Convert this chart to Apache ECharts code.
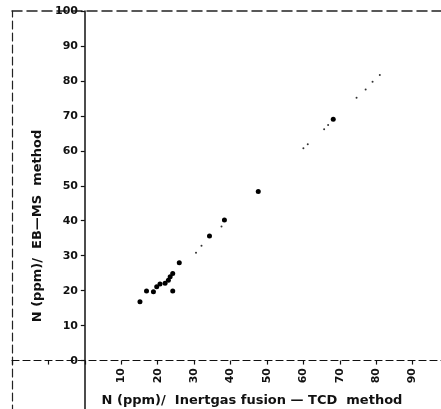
<!DOCTYPE html>
<html><head><meta charset="utf-8">
<script src="https://cdn.jsdelivr.net/npm/echarts@6/dist/echarts.min.js"></script>
<style>html,body{margin:0;padding:0;background:#fff}#c{width:441px;height:409px}</style>
</head><body><div id="c"></div>
<script>
// x: N (ppm) Inertgas fusion - TCD; y: N (ppm) EB-MS
const largeX = [15.1, 16.9, 18.8, 19.7, 20.6, 22.0, 22.9, 23.4, 24.1, 24.1, 25.9, 34.2, 38.3, 47.6, 68.2];
const largeY = [16.9, 20.0, 19.8, 21.2, 22.0, 22.2, 23.1, 24.1, 25.0, 20.0, 28.1, 35.7, 40.3, 48.4, 69.1];
const smallX = [30.5, 32.0, 37.5, 60.0, 61.2, 65.7, 66.8, 74.6, 77.1, 79.0, 81.0];
const smallY = [30.9, 32.9, 38.4, 60.8, 61.9, 66.2, 67.4, 75.2, 77.6, 79.8, 81.7];
const xTickLabels = ['10','20','30','40','50','60','70','80','90'];
const yTickLabels = ['0','10','20','30','40','50','60','70','80','90','100'];
const xName = 'N (ppm)/  Inertgas fusion \u2014 TCD  method';
const yName = 'N (ppm)/  EB\u2014MS  method';

const zip = (a, b) => a.map((v, i) => [v, b[i]]);
const font = 'DejaVu Sans';
const ink = '#111';
const chart = echarts.init(document.getElementById('c'), null, {renderer: 'canvas'});
chart.setOption({
  animation: false,
  backgroundColor: '#ffffff',
  grid: [
    {left: 85, right: -8, top: 11, bottom: 48, containLabel: false, outerBoundsMode: 'none'},
    {left: 12, right: -8, top: 11, bottom: -4, containLabel: false, outerBoundsMode: 'none'}
  ],
  xAxis: [{
    gridIndex: 0, type: 'value', min: 0, max: 100, interval: 10,
    axisLine: {show: false},
    axisTick: {show: false},
    splitLine: {show: false},
    axisLabel: {
      rotate: 90, margin: 7, color: ink, fontFamily: font, fontWeight: 'bold', fontSize: 11,
      formatter: v => xTickLabels.includes(String(v)) ? String(v) : ''
    },
    name: xName, nameLocation: 'middle', nameGap: 33,
    nameTextStyle: {color: ink, fontFamily: font, fontWeight: 'bold', fontSize: 13, padding: [0, 30, 0, 0]}
  }, {
    gridIndex: 1, type: 'value', min: -20, max: 100, interval: 10,
    axisLine: {onZero: true, lineStyle: {color: ink, width: 1.2, type: [7, 4]}},
    axisTick: {show: true, length: 4, lineStyle: {color: ink, width: 1.2}},
    axisLabel: {show: false}, splitLine: {show: false}
  }, {
    gridIndex: 1, type: 'value', position: 'top', min: -20, max: 100,
    axisLine: {show: true, onZero: false, lineStyle: {color: '#222', width: 1.5, type: [10, 5]}},
    axisTick: {show: false}, axisLabel: {show: false}, splitLine: {show: false}
  }],
  yAxis: [{
    gridIndex: 0, type: 'value', min: 0, max: 100, interval: 10,
    axisLine: {show: false},
    axisTick: {show: false},
    axisLabel: {
      margin: 7, color: ink, fontFamily: font, fontWeight: 'bold', fontSize: 11,
      formatter: v => yTickLabels.includes(String(v)) ? String(v) : ''
    },
    splitLine: {show: false},
    name: yName, nameLocation: 'middle', nameGap: 37, nameRotate: 90,
    nameTextStyle: {color: ink, fontFamily: font, fontWeight: 'bold', fontSize: 13, padding: [0, 80, 0, 0]}
  }, {
    gridIndex: 1, type: 'value', min: -15, max: 100, interval: 5,
    axisLine: {onZero: true, lineStyle: {color: ink, width: 1.5}},
    axisTick: {show: true, length: 4, lineStyle: {color: ink, width: 1.2},
      customValues: [0,10,20,30,40,50,60,70,80,90,100]},
    axisLabel: {show: false}, splitLine: {show: false}
  }, {
    gridIndex: 1, type: 'value', position: 'left', min: -15, max: 100,
    axisLine: {show: true, onZero: false, lineStyle: {color: '#222', width: 1.2, type: [8, 4]}},
    axisTick: {show: false}, axisLabel: {show: false}, splitLine: {show: false}
  }],
  series: [{
    type: 'scatter', xAxisIndex: 0, yAxisIndex: 0,
    data: zip(largeX, largeY), symbolSize: 5,
    itemStyle: {color: '#000', opacity: 1}
  }, {
    type: 'scatter', xAxisIndex: 0, yAxisIndex: 0,
    data: zip(smallX, smallY), symbolSize: 2,
    itemStyle: {color: '#333', opacity: 1}
  }]
});
</script></body></html>
